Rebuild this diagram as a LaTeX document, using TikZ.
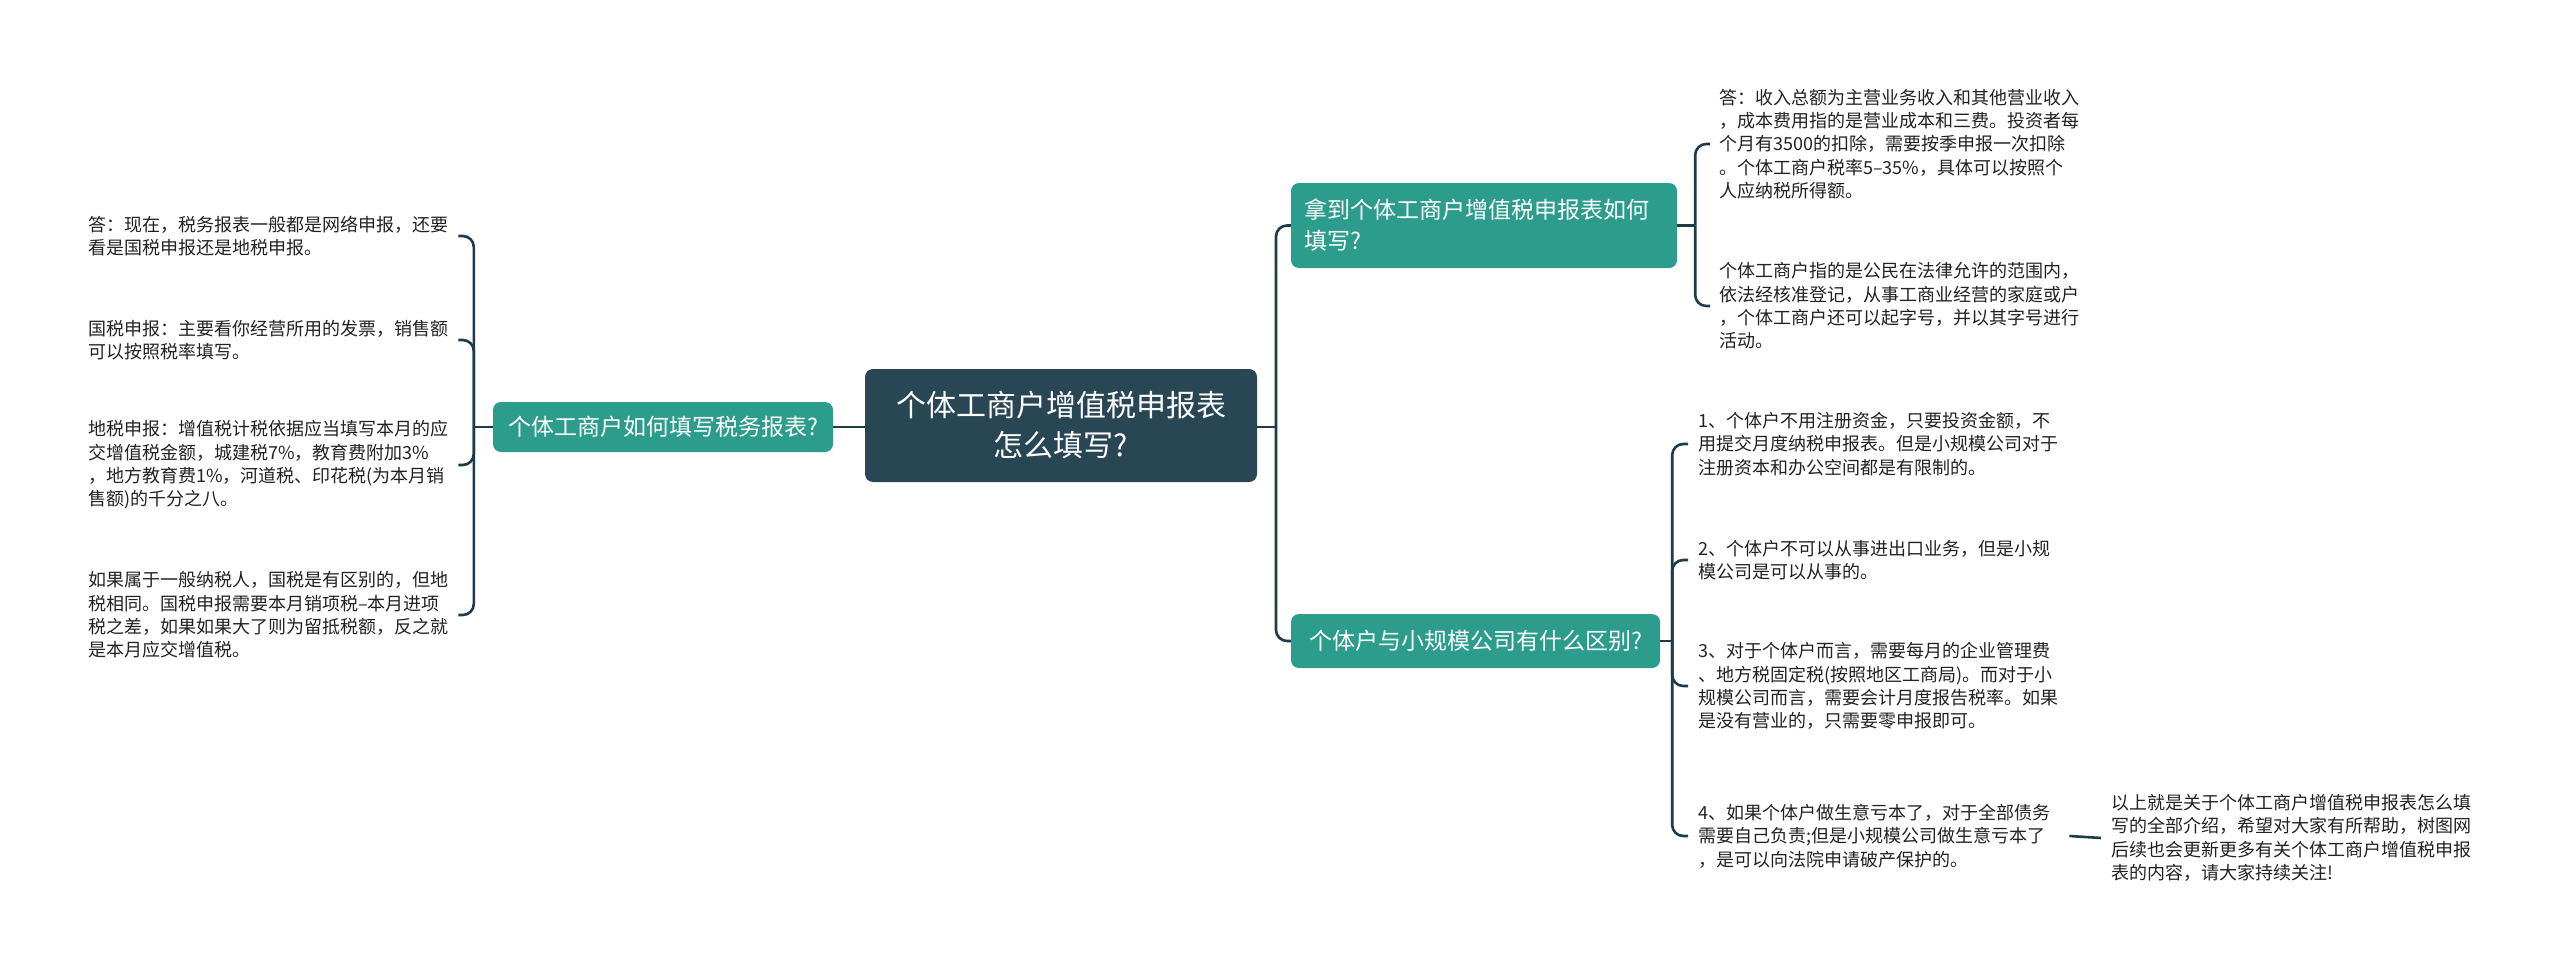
\documentclass[tikz,border=0pt]{standalone}
\usepackage{fontspec}
\setmainfont{Noto Sans CJK SC}
\definecolor{darknode}{HTML}{284653}
\definecolor{tealnode}{HTML}{2C9C8C}
\definecolor{linecol}{HTML}{1F3B4A}
\definecolor{leaftext}{HTML}{222222}
\tikzset{
  conn/.style={draw=linecol, line width=2.6pt, rounded corners=11pt},
  rootbox/.style={fill=darknode, rounded corners=8pt, text=white, align=center,
    font=\fontsize{30}{40}\selectfont, inner sep=0pt},
  topicbox/.style={fill=tealnode, rounded corners=8pt, text=white,
    font=\fontsize{23}{31}\selectfont, inner sep=0pt},
  leaf/.style={anchor=west, inner sep=0pt, text width=364pt, align=left,
    text=leaftext, font=\fontsize{18}{23.3}\selectfont},
}
\begin{document}
\begin{tikzpicture}[x=1pt,y=-1pt]
\useasboundingbox (0,0) rectangle (2560,971);
\fill[white] (0,0) rectangle (2560,971);

% main nodes
\node[rootbox, minimum width=392pt, minimum height=113pt] (root) at (1061,425.5)
  {个体工商户增值税申报表\\怎么填写?};
\node[topicbox, minimum width=340pt, minimum height=50pt] (ln) at (663,427)
  {个体工商户如何填写税务报表?};
\node[topicbox, minimum width=386pt, minimum height=85pt, text width=360pt,
  align=left, inner xsep=13pt] (n1) at (1484,225.5)
  {拿到个体工商户增值税申报表如何\\填写?};
\node[topicbox, minimum width=369pt, minimum height=54pt] (n2) at (1475.5,641)
  {个体户与小规模公司有什么区别?};

% left leaves
\node[leaf] (l1) at (88,236) {答：现在，税务报表一般都是网络申报，还要\\看是国税申报还是地税申报。};
\node[leaf] (l2) at (88,340) {国税申报：主要看你经营所用的发票，销售额\\可以按照税率填写。};
\node[leaf] (l3) at (88,465) {地税申报：增值税计税依据应当填写本月的应\\交增值税金额，城建税7\%，教育费附加3\%\\，地方教育费1\%，河道税、印花税(为本月销\\售额)的千分之八。};
\node[leaf] (l4) at (88,615) {如果属于一般纳税人，国税是有区别的，但地\\税相同。国税申报需要本月销项税–本月进项\\税之差，如果如果大了则为留抵税额，反之就\\是本月应交增值税。};

% right leaves of n1
\node[leaf] (ra) at (1719,144) {答：收入总额为主营业务收入和其他营业收入\\，成本费用指的是营业成本和三费。投资者每\\个月有3500的扣除，需要按季申报一次扣除\\。个体工商户税率5–35\%，具体可以按照个\\人应纳税所得额。};
\node[leaf] (rb) at (1719,306) {个体工商户指的是公民在法律允许的范围内，\\依法经核准登记，从事工商业经营的家庭或户\\，个体工商户还可以起字号，并以其字号进行\\活动。};

% leaves of n2
\node[leaf] (s1) at (1698,444) {1、个体户不用注册资金，只要投资金额，不\\用提交月度纳税申报表。但是小规模公司对于\\注册资本和办公空间都是有限制的。};
\node[leaf] (s2) at (1698,560) {2、个体户不可以从事进出口业务，但是小规\\模公司是可以从事的。};
\node[leaf] (s3) at (1698,686) {3、对于个体户而言，需要每月的企业管理费\\、地方税固定税(按照地区工商局)。而对于小\\规模公司而言，需要会计月度报告税率。如果\\是没有营业的，只需要零申报即可。};
\node[leaf] (s4) at (1698,836) {4、如果个体户做生意亏本了，对于全部债务\\需要自己负责;但是小规模公司做生意亏本了\\，是可以向法院申请破产保护的。};
\node[leaf] (fin) at (2111,838) {以上就是关于个体工商户增值税申报表怎么填\\写的全部介绍，希望对大家有所帮助，树图网\\后续也会更新更多有关个体工商户增值税申报\\表的内容，请大家持续关注!};

% root to left topic
\draw[conn] (ln.east) -- (ln.east -| root.west);

% left bracket
\path (ln.west) ++(-19,0) coordinate (lj);
\draw[conn] (ln.west) -- (lj);
\foreach \n in {l1,l2,l3,l4}
  \draw[conn] (lj) |- ([xshift=6pt]\n.east);

% root to right topics
\coordinate (rj) at (1276,427);
\draw[conn] (rj -| root.east) -- (rj);
\draw[conn] (rj) |- (n1.west);
\draw[conn] (rj) |- (n2.west);

% n1 bracket
\path (n1.east) ++(18,0) coordinate (r1j);
\draw[conn] (n1.east) -- (r1j);
\foreach \n in {ra,rb}
  \draw[conn] (r1j) |- ([xshift=-9pt]\n.west);

% n2 bracket
\path (n2.east) ++(12,0) coordinate (r2j);
\draw[conn] (n2.east) -- (r2j);
\foreach \n in {s1,s2,s3,s4}
  \draw[conn] (r2j) |- ([xshift=-10pt]\n.west);

% s4 to final
\draw[conn] ([xshift=7pt]s4.east) -- ([xshift=-10pt]fin.west);
\end{tikzpicture}
\end{document}
